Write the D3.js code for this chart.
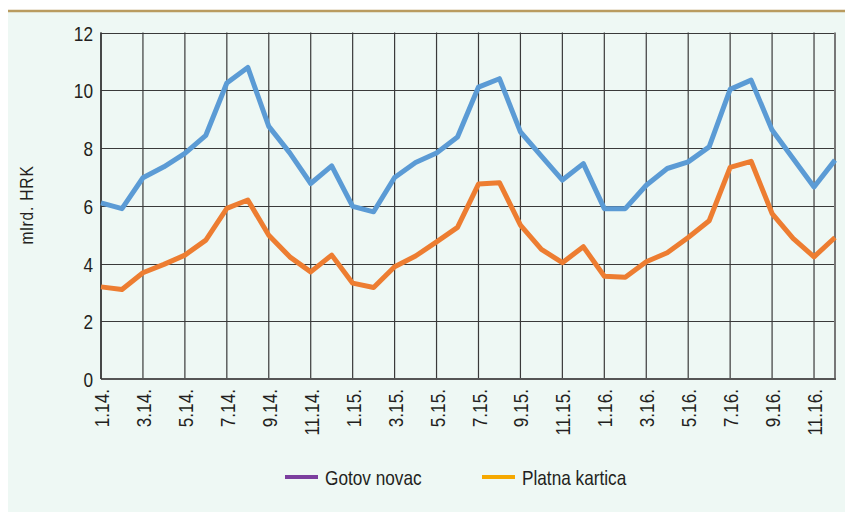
<!DOCTYPE html>
<html>
<head>
<meta charset="utf-8">
<script src="https://cdn.jsdelivr.net/npm/d3@7"></script>
<style>
  html, body { margin: 0; padding: 0; background: #ffffff; }
  svg { display: block; }
  text { font-family: "Liberation Sans", Arial, sans-serif; fill: #231f20; }
</style>
</head>
<body>
<svg id="chart" width="845" height="512"></svg>
<script>
// Monthly values, January 2014 – December 2016 (mlrd. HRK)
const months = [
  "1.14.","2.14.","3.14.","4.14.","5.14.","6.14.","7.14.","8.14.","9.14.","10.14.","11.14.","12.14.",
  "1.15.","2.15.","3.15.","4.15.","5.15.","6.15.","7.15.","8.15.","9.15.","10.15.","11.15.","12.15.",
  "1.16.","2.16.","3.16.","4.16.","5.16.","6.16.","7.16.","8.16.","9.16.","10.16.","11.16.","12.16."
];
const gotovNovac = [
  6.10, 5.90, 6.97, 7.35, 7.81, 8.44, 10.25, 10.79, 8.75, 7.83, 6.77, 7.38,
  5.98, 5.79, 6.98, 7.50, 7.83, 8.38, 10.11, 10.40, 8.56, 7.72, 6.89, 7.46,
  5.90, 5.90, 6.71, 7.29, 7.52, 8.04, 10.03, 10.35, 8.62, 7.64, 6.65, 7.58
];
const platnaKartica = [
  3.19, 3.10, 3.68, 3.97, 4.29, 4.81, 5.91, 6.20, 4.98, 4.23, 3.71, 4.29,
  3.32, 3.17, 3.89, 4.26, 4.75, 5.25, 6.75, 6.80, 5.33, 4.49, 4.03, 4.58,
  3.56, 3.52, 4.06, 4.37, 4.90, 5.48, 7.33, 7.54, 5.73, 4.87, 4.23, 4.90
];
const yTicks = [0, 2, 4, 6, 8, 10, 12];
const seriesNames = ["Gotov novac", "Platna kartica"];
const lineColors = ["#5b9bd5", "#ed7d31"];
const legendColors = ["#7b3f9e", "#f5a800"];

// condensed lettering: regular face squeezed horizontally
const SQ = 0.82;

const svg = d3.select("#chart");

// panel background and top rule
svg.append("rect").attr("x", 8).attr("y", 11).attr("width", 837).attr("height", 501).attr("fill", "#eef8f4");
svg.append("line").attr("x1", 8).attr("x2", 845).attr("y1", 11).attr("y2", 11)
  .attr("stroke", "#b99b5f").attr("stroke-width", 2.5);

const m = { left: 101, right: 835, top: 32.5, bottom: 379 };

const x = d3.scalePoint().domain(months).range([m.left, m.right]);
const y = d3.scaleLinear().domain([0, 12]).range([m.bottom, m.top]);

// horizontal grid
svg.append("g").selectAll("line").data(yTicks).join("line")
  .attr("x1", m.left).attr("x2", m.right)
  .attr("y1", d => Math.round(y(d)) + 0.5).attr("y2", d => Math.round(y(d)) + 0.5)
  .attr("stroke", "#3a3a3a").attr("stroke-width", 1.2);

// vertical grid every second month, plus the right border
const labelled = months.filter((d, i) => i % 2 === 0);
svg.append("g").selectAll("line").data(labelled).join("line")
  .attr("x1", d => x(d)).attr("x2", d => x(d))
  .attr("y1", m.top).attr("y2", m.bottom)
  .attr("stroke", "#3a3a3a").attr("stroke-width", 1.2);
svg.append("line").attr("x1", m.right).attr("x2", m.right).attr("y1", m.top).attr("y2", m.bottom)
  .attr("stroke", "#777").attr("stroke-width", 2);

// axes frame
svg.append("line").attr("x1", m.left).attr("x2", m.right + 1).attr("y1", m.bottom).attr("y2", m.bottom)
  .attr("stroke", "#555").attr("stroke-width", 2);
svg.append("line").attr("x1", m.left).attr("x2", m.left).attr("y1", m.top).attr("y2", m.bottom)
  .attr("stroke", "#333").attr("stroke-width", 1.5);

// y axis
const yAxis = d3.axisLeft(y).tickValues(yTicks).tickSize(0).tickPadding(0).tickFormat(d3.format("d"));
const gy = svg.append("g").attr("transform", `translate(${m.left},0)`).call(yAxis);
gy.select(".domain").remove();
gy.selectAll("text")
  .attr("font-size", 21).attr("font-family", null).attr("fill", "#231f20")
  .attr("text-anchor", "end")
  .attr("x", -8 / SQ).attr("dy", "0.36em")
  .attr("transform", `scale(${SQ},1)`);

// x axis, rotated labels
const xAxis = d3.axisBottom(x).tickValues(labelled).tickSize(0).tickPadding(0);
const gx = svg.append("g").attr("transform", `translate(0,${m.bottom})`).call(xAxis);
gx.select(".domain").remove();
gx.selectAll("text")
  .attr("font-size", 21).attr("font-family", null).attr("fill", "#231f20")
  .attr("text-anchor", "end")
  .attr("transform", `rotate(-90) scale(${SQ},1)`)
  .attr("x", -10 / SQ).attr("y", 0).attr("dy", "0.36em");

// y axis title
svg.append("text")
  .attr("transform", `translate(33,205) rotate(-90) scale(${SQ},1)`)
  .attr("text-anchor", "middle")
  .attr("font-size", 19).attr("letter-spacing", 1)
  .text("mlrd. HRK");

// series lines
const line = d3.line().x((d, i) => x(months[i])).y(d => y(d));
[gotovNovac, platnaKartica].forEach((vals, k) => {
  svg.append("path").datum(vals)
    .attr("d", line)
    .attr("fill", "none")
    .attr("stroke", lineColors[k])
    .attr("stroke-width", 5)
    .attr("stroke-linejoin", "round")
    .attr("stroke-linecap", "butt");
});

// legend
const legendX = [285, 482];
const lg = svg.append("g");
seriesNames.forEach((name, k) => {
  lg.append("line").attr("x1", legendX[k]).attr("x2", legendX[k] + 33)
    .attr("y1", 477).attr("y2", 477)
    .attr("stroke", legendColors[k]).attr("stroke-width", 4);
  lg.append("text")
    .attr("transform", `translate(${legendX[k] + 40},485) scale(${SQ},1)`)
    .attr("font-size", 21).text(name);
});
</script>
</body>
</html>
